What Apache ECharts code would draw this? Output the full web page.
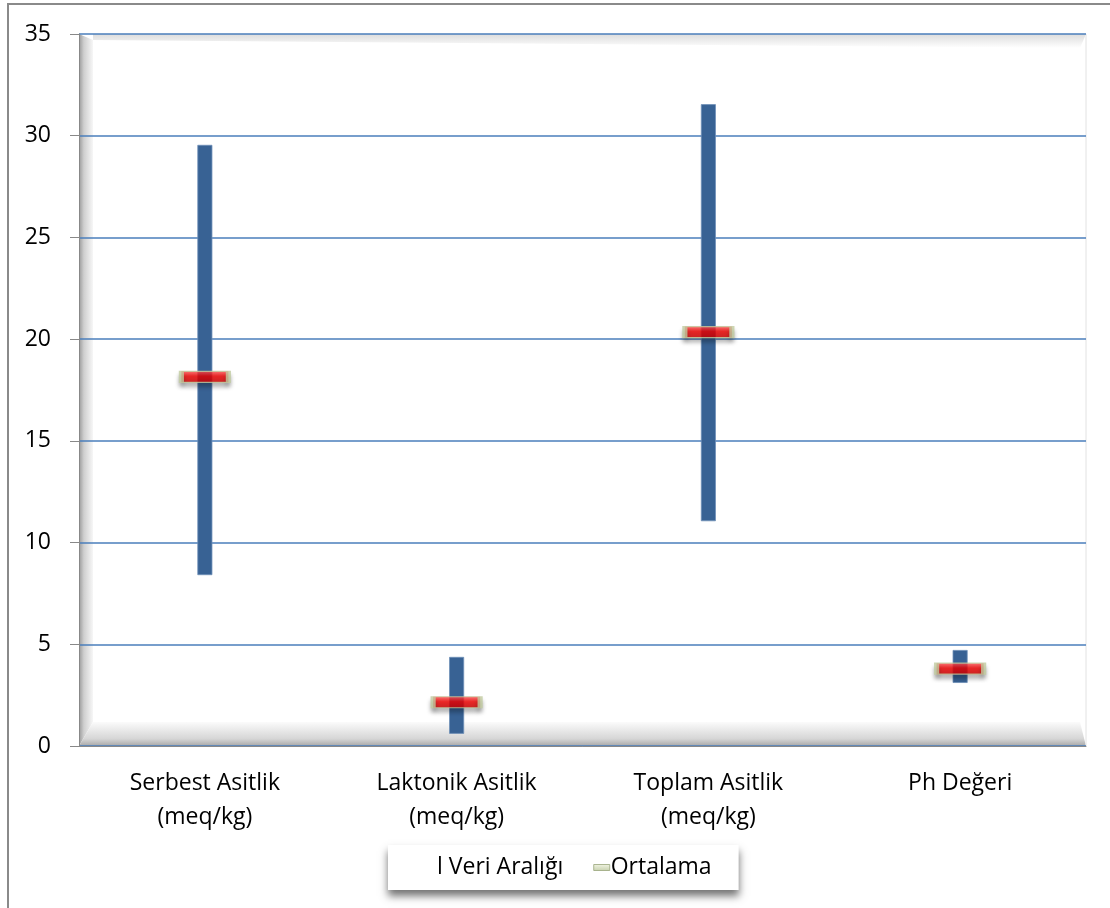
<!DOCTYPE html>
<html><head><meta charset="utf-8">
<script src="https://cdn.jsdelivr.net/npm/echarts@6/dist/echarts.min.js"></script>
<style>html,body{margin:0;padding:0;background:#fff}#c{width:1110px;height:908px}</style>
</head><body><div id="c"></div>
<script>
var categories = ['Serbest Asitlik\n(meq/kg)', 'Laktonik Asitlik\n(meq/kg)', 'Toplam Asitlik\n(meq/kg)', 'Ph Değeri'];
var minValues = [8.4, 0.6, 11.05, 3.1];
var maxValues = [29.55, 4.38, 31.55, 4.72];
var meanValues = [18.15, 2.15, 20.35, 3.8];
var yTicks = [0, 5, 10, 15, 20, 25, 30, 35];

var FONT = 'Open Sans';
var FS = 23;
var G = {left: 79, top: 34, right: 1086, bottom: 746};
var chart = echarts.init(document.getElementById('c'));
var span = maxValues.map(function (v, i) { return +(v - minValues[i]).toFixed(3); });

chart.setOption({
  animation: false,
  textStyle: {fontFamily: FONT},
  grid: {left: G.left, top: G.top, right: 1110 - G.right, bottom: 908 - G.bottom},
  graphic: [
    {type: 'rect', z: -20, silent: true, shape: {x: 8, y: 4, width: 1110, height: 912}, style: {fill: '#fff', stroke: '#8a8a8a', lineWidth: 2}},
    {type: 'polygon', z: -10, silent: true, shape: {points: [[G.left, G.top], [G.left + 14, G.top + 6], [G.left + 14, G.bottom - 24], [G.left, G.bottom]]},
      style: {fill: new echarts.graphic.LinearGradient(0, 0, 1, 0, [{offset: 0, color: '#9a9a9a'}, {offset: 0.35, color: '#cfcfcf'}, {offset: 1, color: '#f7f7f7'}])}},
    {type: 'polygon', z: -10, silent: true, shape: {points: [[G.left, G.bottom], [G.left + 14, G.bottom - 24], [G.right - 6, G.bottom - 24], [G.right, G.bottom]]},
      style: {fill: new echarts.graphic.LinearGradient(0, 1, 0, 0, [{offset: 0, color: '#a8a8a8'}, {offset: 0.3, color: '#d6d6d6'}, {offset: 1, color: '#fbfbfb'}])}},
    {type: 'polygon', z: -10, silent: true, shape: {points: [[G.left + 14, G.top], [G.right, G.top], [G.right - 6, G.top + 14], [G.left + 14, G.top + 6]]},
      style: {fill: new echarts.graphic.LinearGradient(0, 0, 0, 1, [{offset: 0, color: '#dcdcdc'}, {offset: 1, color: '#ffffff'}])}},
    {type: 'line', z: -5, silent: true, shape: {x1: G.right, y1: G.top, x2: G.right, y2: G.bottom}, style: {stroke: '#e2e2e2', lineWidth: 1}}
  ],
  legend: {
    left: 388, top: 845,
    padding: [11, 27, 11, 32],
    itemGap: 30,
    itemWidth: 16, itemHeight: 6,
    backgroundColor: '#ffffff',
    shadowColor: 'rgba(0,0,0,0.55)', shadowBlur: 8, shadowOffsetY: 6,
    textStyle: {fontFamily: FONT, fontSize: FS, color: '#000', padding: [0, 0, 0, -4]},
    data: [
      {name: 'l Veri Aralığı', icon: 'rect', itemStyle: {color: 'rgba(0,0,0,0)', borderWidth: 0}},
      {name: 'Ortalama', icon: 'rect', itemStyle: {color: new echarts.graphic.LinearGradient(0, 0, 0, 1, [{offset: 0, color: '#eef2dc'}, {offset: 1, color: '#b9c59a'}]), borderColor: '#98a57a', borderWidth: 1}}
    ]
  },
  xAxis: {
    type: 'category', data: categories,
    axisLine: {lineStyle: {color: '#888', width: 1}},
    axisTick: {length: 8, lineStyle: {color: '#888'}},
    axisLabel: {fontFamily: FONT, fontSize: FS, color: '#000', margin: 20, lineHeight: 34}
  },
  yAxis: {
    type: 'value', min: 0, max: 35, interval: 5,
    axisLine: {show: true, lineStyle: {color: '#888'}},
    axisTick: {show: true, length: 9, lineStyle: {color: '#888'}},
    axisLabel: {fontFamily: FONT, fontSize: FS, color: '#000', margin: 28,
      formatter: function (v) { return yTicks.indexOf(v) >= 0 ? String(v) : ''; }},
    splitLine: {lineStyle: {color: '#4a7ebb', width: 1.5}}
  },
  series: [
    {name: 'base', type: 'bar', stack: 'r', data: minValues, barWidth: 15, silent: true,
      itemStyle: {color: 'rgba(0,0,0,0)'}, legendHoverLink: false},
    {name: 'l Veri Aralığı', type: 'bar', stack: 'r', data: span, barWidth: 15,
      itemStyle: {color: '#386294', borderColor: '#6f8fb8', borderWidth: 0.8}},
    {name: 'Ortalama', type: 'scatter', data: meanValues, symbol: 'rect', symbolSize: [47, 11], z: 5,
      itemStyle: {
        color: new echarts.graphic.LinearGradient(0, 0, 0, 1, [{offset: 0, color: '#ff5a5a'}, {offset: 0.45, color: '#ff0000'}, {offset: 1, color: '#c80000'}]),
        borderColor: '#c2cca0', borderWidth: 2.5,
        shadowColor: 'rgba(0,0,0,0.35)', shadowBlur: 4, shadowOffsetY: 4
      }}
  ]
});
</script></body></html>
